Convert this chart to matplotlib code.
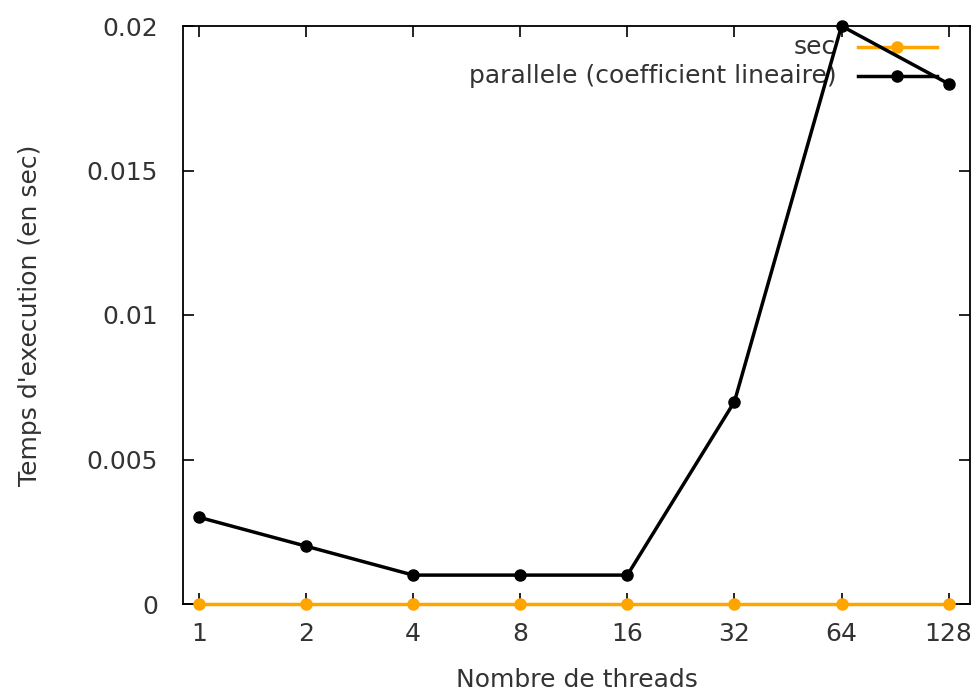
import matplotlib
matplotlib.use("Agg")
import matplotlib.pyplot as plt

threads = ["1", "2", "4", "8", "16", "32", "64", "128"]
seq = [0, 0, 0, 0, 0, 0, 0, 0]
parallele = [0.003, 0.002, 0.001, 0.001, 0.001, 0.007, 0.02, 0.018]
yticks = [0, 0.005, 0.01, 0.015, 0.02]
ytick_labels = ["0", "0.005", "0.01", "0.015", "0.02"]

plt.rcParams['font.family'] = ['DejaVu Sans']
txt = '#333333'
orange = '#ffa500'
fs = 18

fig = plt.figure(figsize=(9.76, 6.94), dpi=100)
ax = fig.add_axes([183/976, 1-604/694, 787/976, 578/694])

x = list(range(len(threads)))
ax.plot(x, seq, color=orange, lw=2.5, marker='o', ms=8, zorder=3, clip_on=False)
ax.plot(x, parallele, color='black', lw=2.5, marker='o', ms=8, zorder=4, clip_on=False)

ax.set_xlim(-0.15, 7.2)
ax.set_ylim(0, 0.02)
ax.set_xticks(x)
ax.set_xticklabels(threads)
ax.set_yticks(yticks)
ax.set_yticklabels(ytick_labels)
ax.tick_params(direction='in', length=8, width=1.2, top=True, right=True,
               labelsize=fs, colors='black', labelcolor=txt)
ax.tick_params(axis='y', pad=18)
ax.tick_params(axis='x', pad=13)
for s in ax.spines.values():
    s.set_linewidth(1.3)

ax.set_xlabel("Nombre de threads", fontsize=fs, color=txt, labelpad=16)
ax.set_ylabel("Temps d'execution (en sec)", fontsize=fs, color=txt, labelpad=32)

# gnuplot-style legend
rows = [("sec", orange, 0.964), ("parallele (coefficient lineaire)", 'black', 0.9135)]
for label, c, yy in rows:
    ax.text(0.830, yy, label, transform=ax.transAxes, ha='right', va='center',
            fontsize=fs, color=txt, zorder=2)
    ax.plot([0.858, 0.958], [yy, yy], transform=ax.transAxes, color=c, lw=2.5, zorder=2)
    ax.plot([0.907], [yy], transform=ax.transAxes, color=c, marker='o', ms=8, zorder=2)

fig.savefig("out.png", dpi=100)
